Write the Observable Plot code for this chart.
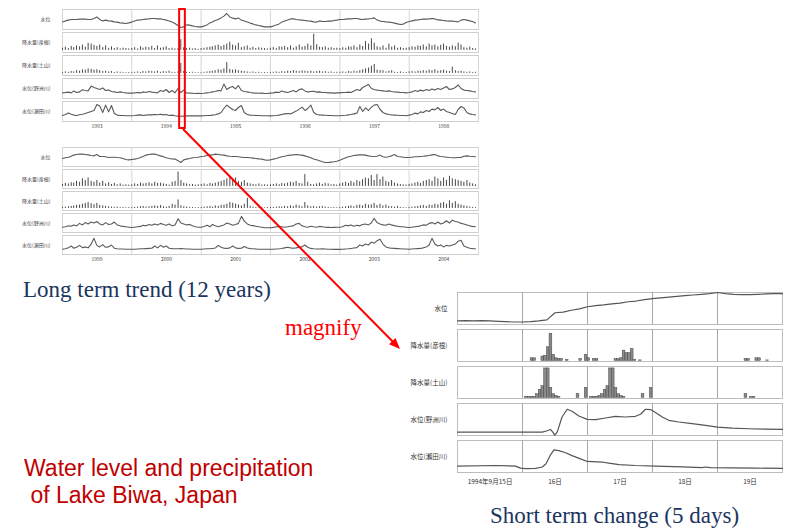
<!DOCTYPE html>
<html><head><meta charset="utf-8">
<script src="https://cdn.jsdelivr.net/npm/d3@7"></script>
<script src="https://cdn.jsdelivr.net/npm/@observablehq/plot@0.6"></script>
<style>
html,body{margin:0;padding:0;background:#fff;}
#page{position:relative;width:787px;height:531px;overflow:hidden;background:#fff;}
.panel{position:absolute;}
#overlay{position:absolute;left:0;top:0;pointer-events:none;}
</style></head><body><div id="page"></div>
<script>
// ---------- labels ----------
const rowNames = ["水位","降水量(彦根)","降水量(土山)","水位(野洲川)","水位(瀬田川)"];
const yearsA = [1993,1994,1995,1996,1997,1998];
const yearsB = [1999,2000,2001,2002,2003,2004];
const dayLabels = ["1994年9月15日","16日","17日","18日","19日"];

// ---------- long term (semi-monthly, relative units 0-100 of each row) ----------
const lakeLevel93to98 = [
 38,43,47,50,50,50,52,52,52,50,50,55,63,50,43,47,43,42,38,37,33,32,30,33,
 37,42,47,48,50,52,53,55,55,53,53,50,47,42,37,30,20,10,13,23,22,18,15,13,
 13,17,23,33,38,45,50,58,67,80,63,57,53,58,47,42,37,32,28,23,20,17,13,13,
 13,17,23,28,37,43,48,53,53,50,48,47,45,43,42,38,37,43,40,40,42,42,45,47,
 50,50,52,53,53,55,55,52,50,52,53,55,58,47,42,40,38,37,35,32,28,25,27,35,
 40,43,47,48,50,52,52,53,55,53,48,47,45,43,42,42,40,38,47,50,47,43,40,33];
const lakeLevel99to04 = [
 42,46,49,54,60,63,65,65,63,61,58,56,63,53,53,51,47,49,49,47,46,42,37,35,
 37,39,42,47,53,60,63,65,65,61,56,51,46,42,40,39,30,21,35,39,42,46,47,49,
 53,54,58,60,61,65,63,61,60,56,54,53,53,51,49,47,47,46,44,42,40,39,35,33,
 35,39,42,47,51,54,58,60,61,63,61,60,56,51,46,40,35,30,25,21,21,23,25,28,
 33,39,46,51,54,58,60,61,61,60,56,54,53,54,60,51,49,51,56,63,53,51,49,47,
 47,49,51,51,53,54,56,58,61,63,56,53,51,49,47,46,46,47,47,54,56,54,53,51];
const hikone93to98 = [
 12,18,10,22,15,25,20,30,18,40,35,28,22,30,15,25,12,20,10,15,8,12,10,8,
 10,15,8,20,12,18,15,22,10,25,12,15,20,10,12,8,10,60,14,10,12,8,10,6,
 10,12,15,18,20,25,30,22,28,35,45,30,25,40,15,20,25,12,18,10,15,12,10,8,
 12,15,10,20,18,22,15,25,12,20,30,18,22,35,25,90,32,18,15,20,12,15,10,12,
 10,15,12,20,18,25,15,30,22,50,35,65,40,20,15,25,12,35,18,25,12,15,10,12,
 15,20,18,25,22,30,20,35,25,30,20,28,35,22,18,25,20,40,30,15,12,18,10,8];
const hikone99to04 = [
 12,18,15,22,20,30,25,45,35,50,30,25,35,20,30,15,22,12,18,10,15,8,10,8,
 10,15,12,20,15,18,22,15,25,18,20,15,12,8,25,30,85,35,20,15,10,12,8,10,
 12,15,10,18,15,20,25,30,35,45,55,40,50,30,25,35,20,15,12,10,15,8,10,8,
 10,12,15,10,18,15,20,25,22,30,18,15,70,25,12,10,15,20,12,18,15,10,12,8,
 15,20,25,18,30,22,35,28,40,50,45,65,35,70,40,55,30,25,35,20,15,12,10,8,
 12,15,20,25,18,30,35,40,30,55,45,30,50,35,60,45,40,35,30,25,35,20,15,10];
const tsuchiyama93to98 = [
 5,8,6,10,8,15,12,20,18,25,22,18,20,15,10,12,8,10,5,8,6,5,4,5,
 5,6,8,5,10,8,12,10,8,12,6,10,8,12,6,5,8,55,10,6,5,6,4,4,
 4,6,8,10,12,15,20,18,25,60,22,18,20,15,12,10,8,6,8,5,6,4,5,4,
 5,6,8,6,10,8,12,10,15,12,10,14,12,10,12,8,10,12,8,10,6,8,5,6,
 6,8,6,10,8,12,10,15,20,25,30,40,50,18,15,15,8,12,15,6,5,8,4,5,
 8,10,8,12,10,15,12,18,15,20,12,15,18,12,10,35,15,10,12,8,6,8,5,6];
const tsuchiyama99to04 = [
 6,8,10,12,15,18,20,25,30,35,28,22,30,18,15,12,10,8,6,8,5,6,4,5,
 5,6,8,10,12,8,10,12,15,12,18,10,8,12,25,20,50,15,10,8,6,5,4,5,
 6,8,10,12,8,15,12,18,20,25,35,30,25,20,15,25,60,12,8,6,5,6,4,5,
 5,6,8,10,8,12,10,15,12,20,15,10,35,15,10,12,8,10,12,8,6,5,6,4,
 6,8,10,12,15,10,18,20,15,25,20,22,30,18,25,15,20,12,10,8,12,6,5,4,
 6,8,10,12,15,18,12,20,18,25,22,30,35,25,45,30,40,25,20,15,12,8,6,5];
const yasu93to98 = [
 28,30,32,28,38,30,33,44,40,38,62,55,50,45,53,40,42,35,33,30,33,30,28,27,
 27,28,30,28,33,30,35,32,30,28,40,35,45,30,40,28,50,30,42,28,27,26,25,26,
 25,26,28,30,33,35,40,38,72,45,55,60,48,65,40,35,33,30,28,27,26,27,25,25,
 27,28,32,30,38,33,30,35,40,33,45,48,38,33,35,36,32,33,30,30,28,28,27,28,
 28,30,30,32,30,38,45,40,55,62,70,50,45,42,40,38,36,38,35,33,32,30,30,28,
 30,33,40,35,42,38,45,40,48,42,50,45,52,60,45,48,55,68,50,42,40,38,35,33];
const yasu99to04 = [
 28,30,35,33,40,35,48,40,52,45,55,50,58,45,40,52,42,45,55,40,35,32,30,28,
 26,28,30,32,38,35,42,38,45,40,48,42,38,45,35,40,72,50,45,40,42,35,30,28,
 28,32,38,30,42,35,30,35,40,50,45,38,42,48,85,60,45,38,36,33,30,28,25,25,
 25,27,30,32,30,28,30,33,35,45,48,35,30,28,33,30,28,32,30,28,27,26,27,28,
 28,30,38,35,40,33,38,35,42,45,40,50,75,52,45,40,38,45,40,36,33,30,30,28,
 26,28,30,32,35,40,38,48,52,45,55,45,50,62,50,65,58,55,48,45,40,35,32,30];
const seta93to98 = [
 30,35,42,36,32,30,34,36,40,45,50,55,85,78,45,82,48,80,40,32,30,30,29,29,
 29,30,32,33,30,32,34,33,35,34,36,33,35,30,32,29,27,26,27,28,28,29,28,28,
 28,29,30,30,32,34,38,45,65,82,70,60,55,70,80,45,35,32,31,30,30,29,29,29,
 28,29,30,32,35,38,40,38,45,52,62,72,55,65,82,45,35,33,32,31,30,30,29,29,
 29,30,31,33,35,38,42,75,50,68,55,72,82,85,60,45,38,35,33,32,31,30,30,29,
 32,35,42,38,48,45,55,50,62,58,70,55,62,50,45,40,35,60,75,68,45,38,35,33];
const seta99to04 = [
 28,30,35,45,33,38,48,36,40,35,55,85,48,40,52,38,40,50,33,30,29,29,28,28,
 28,28,29,30,30,31,32,33,45,35,48,38,45,33,31,30,30,31,30,29,29,28,28,28,
 28,29,30,30,32,34,48,38,33,32,35,45,35,32,33,42,34,31,30,29,28,28,28,28,
 28,28,29,30,32,35,38,35,33,35,38,40,50,38,32,30,29,29,30,29,28,28,27,27,
 27,28,29,30,32,34,36,50,45,55,50,65,60,72,80,55,40,35,33,32,31,30,29,29,
 28,29,30,31,32,35,40,50,85,55,45,50,40,48,45,50,55,70,75,45,38,33,31,30];

// ---------- short term, 1994-09-15 .. 09-20 ----------
// lake level, every 3 hours from 15th 00:00 (relative cm)
const lakeShort = [10,11,10,11,10,9,8,7, 7,8,10,13,33,35,40,44, 50,53,55,58,60,64,66,70,
  73,75,77,79,81,83,85,87, 90,87,85,84,84,85,86,87,87];
const hikoneHours = [27,28,31,32,33,34,35,36,37,38,40,45,47,48,50,51,58,59,60,61,62,63,64,65,67,106,107,110,111,114];
const hikoneMm    = [3,3,5,6,16,32,7,3,2,2,1,2,7,3,2,2,2,2,3,12,9,9,14,1,0.5,2,2,3,3,0.5];
const tsuchiyamaHours = [25,26,27,28,29,30,31,32,33,34,35,36,37,44,47,49,50,51,52,53,54,55,56,57,58,59,60,61,68,71,106,108,109];
const tsuchiyamaMm    = [1,1,1,1,4,9,13,33,33,11,4,2,1,4,11,1,1,1,2,4,9,13,33,33,11,4,2,1,4,11,4,1,1];
const yasuHours = [0,31.3,33.1,34.3,35.2,35.9,36.8,38.6,40.5,42.3,44.8,47.9,51,54.6,58.3,62,65.7,67.6,69.4,71.3,73.1,75.6,78,81.7,86.6,91.6,96,101.4,107.6,113.7,120];
const yasuLevel = [12,12,16,20,12,3,12,57,80,74,60,50,49,54,59,57,59,65,80,79,70,57,47,42,37,32,27,24,22,21,20];
const setaHours = [0,14,21.4,23.3,25.1,28.8,31.3,32.7,34.3,35.6,37.4,39.9,42.3,45.4,47.9,53.4,55.9,59.6,65.7,73.1,83,90.3,91.6,93.4,101.4,110,120];
const setaLevel = [27,29,27,20,18,19,24,35,65,83,80,73,63,52,43,41,37,32,29,27,24,22,24,22,21,20,19];

const FONT = "'Noto Sans CJK JP','Noto Sans',sans-serif";
const page = document.getElementById("page");
const norm = (v, lo, hi) => (v - lo) / (hi - lo);

function longPanel(years, lake, hikone, tsuchiyama, yasu, seta, rowsHeight) {
  const y0 = years[0];
  const date = i => new Date(y0 + Math.floor(i / 24), Math.floor((i % 24) / 2), (i % 2) ? 16 : 1);
  const lines = [], bars = [];
  [[lake, 0], [yasu, 3], [seta, 4]].forEach(([arr, r]) =>
    arr.forEach((v, i) => lines.push({row: rowNames[r], date: date(i), y: norm(v, 0, 100)})));
  [[hikone, 1], [tsuchiyama, 2]].forEach(([arr, r]) =>
    arr.forEach((v, i) => bars.push({row: rowNames[r], date: date(i), y1: norm(0, -12, 100), y2: norm(v, -12, 100)})));
  const yearStarts = d3.range(years.length + 1).map(k => new Date(y0 + k, 0, 1));
  const mids = years.map(y => new Date(y, 6, 2));
  return Plot.plot({
    width: 490, height: 8 + rowsHeight + 14,
    marginTop: 8, marginBottom: 14, marginLeft: 62, marginRight: 12,
    style: {fontFamily: FONT, fontSize: "5px", color: "#444", background: "transparent"},
    x: {domain: [yearStarts[0], yearStarts[yearStarts.length - 1]], ticks: mids, tickSize: 0, tickPadding: 3,
        tickFormat: d => String(d.getFullYear()), label: null},
    y: {domain: [0, 1], axis: null},
    fy: {domain: rowNames, paddingInner: 0.13, paddingOuter: 0, axis: "left", tickSize: 0, tickPadding: 12, label: null},
    marks: [
      Plot.frame({stroke: "#cfcfcf"}),
      Plot.ruleX(yearStarts, {stroke: "#d6d6d6"}),
      Plot.ruleX(bars, {x: "date", y1: "y1", y2: "y2", fy: "row", stroke: "#333", strokeWidth: 0.9}),
      Plot.line(lines, {x: "date", y: "y", fy: "row", z: "row", stroke: "#5a5a5a", strokeWidth: 1.1})
    ]
  });
}

const plotA = longPanel(yearsA, lakeLevel93to98, hikone93to98, tsuchiyama93to98, yasu93to98, seta93to98, 114);
plotA.classList.add("panel"); plotA.style.left = "0px"; plotA.style.top = "0px";
page.appendChild(plotA);
const plotB = longPanel(yearsB, lakeLevel99to04, hikone99to04, tsuchiyama99to04, yasu99to04, seta99to04, 112);
plotB.classList.add("panel"); plotB.style.left = "0px"; plotB.style.top = "137px";
page.appendChild(plotB);

// ---------- short term panel ----------
const t0 = new Date(1994, 8, 15);
const at = h => new Date(+t0 + h * 3600e3);
const sLines = [], sBars = [];
lakeShort.forEach((v, i) => sLines.push({row: rowNames[0], date: at(i * 3), y: norm(v, 0, 90)}));
yasuHours.forEach((h, i) => sLines.push({row: rowNames[3], date: at(h), y: norm(yasuLevel[i], 2, 97)}));
setaHours.forEach((h, i) => sLines.push({row: rowNames[4], date: at(h), y: norm(setaLevel[i], 5, 115)}));
hikoneHours.forEach((h, i) => sBars.push({row: rowNames[1], x1: at(h), x2: at(h + 1), y1: norm(0, -0.8, 37), y2: norm(hikoneMm[i], -0.8, 37)}));
tsuchiyamaHours.forEach((h, i) => sBars.push({row: rowNames[2], x1: at(h), x2: at(h + 1), y1: norm(0, -0.8, 35.2), y2: norm(tsuchiyamaMm[i], -0.8, 35.2)}));
const dayStarts = d3.range(6).map(k => new Date(1994, 8, 15 + k));
const noons = d3.range(5).map(k => new Date(1994, 8, 15 + k, 12));

const plotC = Plot.plot({
  width: 392, height: 2 + 185 + 18,
  marginTop: 2, marginBottom: 18, marginLeft: 62, marginRight: 5,
  style: {fontFamily: FONT, fontSize: "6.5px", color: "#333", background: "transparent"},
  x: {domain: [dayStarts[0], dayStarts[5]], ticks: noons, tickSize: 0, tickPadding: 7,
      tickFormat: d => dayLabels[d.getDate() - 15], label: null},
  y: {domain: [0, 1], axis: null},
  fy: {domain: rowNames, paddingInner: 0.13, paddingOuter: 0, axis: "left", tickSize: 0, tickPadding: 10, label: null},
  marks: [
    Plot.frame({stroke: "#bdbdbd"}),
    Plot.ruleX(dayStarts.slice(1, 5), {stroke: "#a8a8a8"}),
    Plot.rect(sBars, {x1: "x1", x2: "x2", y1: "y1", y2: "y2", fy: "row", fill: "#8a8a8a", stroke: "#444", strokeWidth: 0.5}),
    Plot.line(sLines, {x: "date", y: "y", fy: "row", z: "row", stroke: "#555", strokeWidth: 1.2})
  ]
});
plotC.classList.add("panel"); plotC.style.left = "395px"; plotC.style.top = "288px";
page.appendChild(plotC);

// ---------- overlay: magnify marker, arrow, texts ----------
const xA = plotA.scale("x");
const rx1 = xA.apply(new Date(1994, 8, 10)), rx2 = xA.apply(new Date(1994, 9, 10));
const svg = d3.select(page).append("svg").attr("id", "overlay").attr("width", 787).attr("height", 531);
svg.append("rect").attr("x", rx1).attr("y", 9).attr("width", rx2 - rx1).attr("height", 119)
  .attr("fill", "none").attr("stroke", "#ff0000").attr("stroke-width", 2);
const sx = (rx1 + rx2) / 2 + 1, sy = 129, tx = 400, ty = 349;
const ang = Math.atan2(ty - sy, tx - sx), L = 11, W = 4.5;
svg.append("line").attr("x1", sx).attr("y1", sy).attr("x2", tx - Math.cos(ang) * 8).attr("y2", ty - Math.sin(ang) * 8)
  .attr("stroke", "#ff0000").attr("stroke-width", 2);
const bx = tx - Math.cos(ang) * L, by = ty - Math.sin(ang) * L;
svg.append("polygon").attr("fill", "#ff0000").attr("points", [
  [tx, ty], [bx + Math.sin(ang) * W, by - Math.cos(ang) * W], [bx - Math.sin(ang) * W, by + Math.cos(ang) * W]
].map(p => p.join(",")).join(" "));

const SERIF = "'Liberation Serif','Times New Roman',serif";
const SANS = "'Liberation Sans',Arial,sans-serif";
function label(text, x, y, size, color, family) {
  svg.append("text").attr("x", x).attr("y", y).attr("fill", color)
    .style("font-family", family).style("font-size", size + "px").style("white-space", "pre").text(text);
}
label("Long term trend (12 years)", 23, 297, 23, "#1b3560", SERIF);
label("magnify", 285, 335, 23, "#ff0000", SERIF);
label("Water level and precipitation", 24, 476, 23, "#c00000", SANS);
label(" of Lake Biwa, Japan", 24, 503, 23, "#c00000", SANS);
label("Short term change (5 days)", 490, 523, 23, "#1b3560", SERIF);
</script></body></html>
